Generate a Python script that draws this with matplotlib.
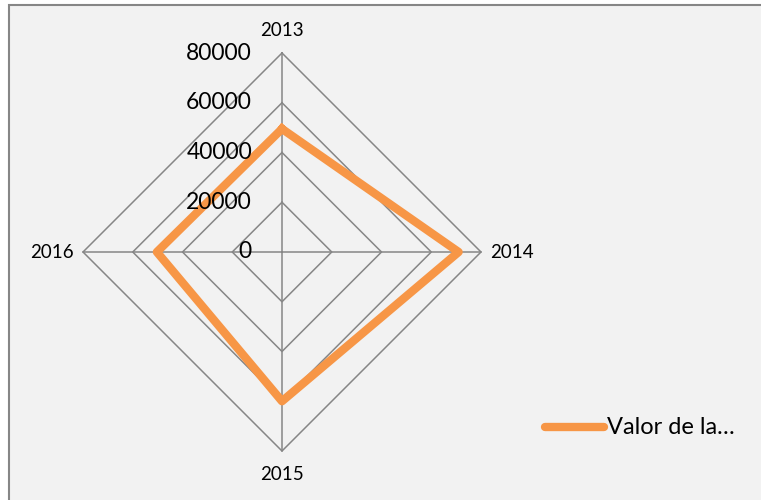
import numpy as np
import matplotlib
matplotlib.use("Agg")
import matplotlib.pyplot as plt
import matplotlib.patches as pat

# chart data
years = ["2013", "2014", "2015", "2016"]
values = [49500, 71000, 60000, 50300]
rings = [0, 20000, 40000, 60000, 80000]
series_name = "Valor de la…"

W, H = 761, 500
cx, cy = 282, 252          # centre of the radar, pixels
rad_px = 199.0             # pixels for the outer ring
rmax = rings[-1]
s = rmax / rad_px          # data units per pixel

plt.rcParams['font.family'] = ['Lato', 'DejaVu Sans']

fig = plt.figure(figsize=(W / 100, H / 100), dpi=100)
fig.patch.set_facecolor('white')
ax = fig.add_axes([0, 0, 1, 1])
ax.set_xlim(-cx * s, (W - cx) * s)
ax.set_ylim(-(H - cy) * s, cy * s)
ax.axis('off')

# chart area background + border
bg = pat.Rectangle((8.5 * s - cx * s, -(H - cy) * s - 5 * s),
                   (W + 10) * s, (H - 4.5) * s + 5 * s,
                   facecolor='#F2F2F2', edgecolor='#868686', linewidth=1.5,
                   zorder=0)
ax.add_patch(bg)

# angles: top, right, bottom, left (clockwise from top)
ang = np.pi / 2 - np.arange(len(years)) * 2 * np.pi / len(years)
ux, uy = np.cos(ang), np.sin(ang)

grid_col = '#868686'
for r in rings[1:]:
    xs = np.append(r * ux, r * ux[0])
    ys = np.append(r * uy, r * uy[0])
    ax.plot(xs, ys, color=grid_col, lw=1.1, zorder=1)
for i in range(len(years)):
    ax.plot([0, rmax * ux[i]], [0, rmax * uy[i]], color=grid_col, lw=1.1, zorder=1)

# series
v = np.array(values)
ax.plot(np.append(v * ux, v[0] * ux[0]), np.append(v * uy, v[0] * uy[0]),
        color='#F79646', lw=6, solid_joinstyle='round', zorder=3)

# radial labels
for r in rings:
    ax.text(-30 * s, r, str(r), ha='right', va='center', fontsize=16.5,
            color='black', zorder=4)

# category labels
cat_fs = 13.5
ax.text(0, rmax + 22 * s, years[0], ha='center', va='center', fontsize=cat_fs)
ax.text(rmax + 9 * s, 0, years[1], ha='left', va='center', fontsize=cat_fs)
ax.text(0, -rmax - 23 * s, years[2], ha='center', va='center', fontsize=cat_fs)
ax.text(-rmax - 9 * s, 0, years[3], ha='right', va='center', fontsize=cat_fs)

# legend
lx0, lx1, ly = (545 - cx) * s, (604 - cx) * s, (cy - 427) * s
ax.plot([lx0, lx1], [ly, ly], color='#F79646', lw=6, solid_capstyle='round', zorder=3)
ax.text((607 - cx) * s, ly, series_name, ha='left', va='center', fontsize=17)

fig.savefig('out.png', dpi=100, facecolor=fig.get_facecolor())
